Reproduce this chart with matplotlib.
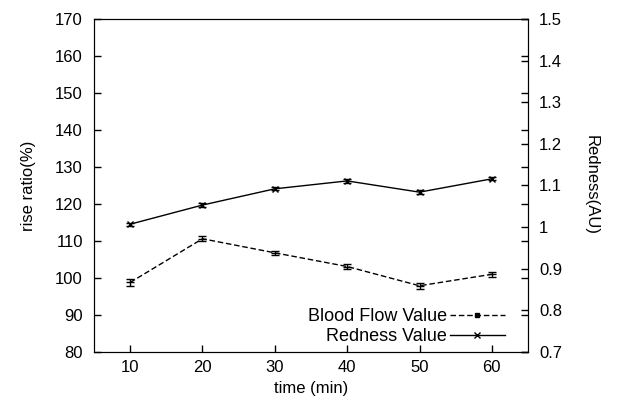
import numpy as np
import matplotlib

matplotlib.use("Agg")
import matplotlib.pyplot as plt
from matplotlib.lines import Line2D

time_min = [10, 20, 30, 40, 50, 60]
blood_flow = [98.8, 110.6, 106.8, 103.1, 97.9, 101.0]
blood_flow_err = [0.9, 0.7, 0.6, 0.7, 0.8, 0.6]
redness = [1.007, 1.053, 1.092, 1.111, 1.084, 1.116]
redness_err = [0.004, 0.004, 0.004, 0.005, 0.004, 0.004]

plt.rcParams["font.family"] = ["Liberation Sans", "DejaVu Sans"]
plt.rcParams["font.size"] = 12

fig = plt.figure(figsize=(6.22, 4.05), dpi=100)
ax = fig.add_axes([0.1511, 0.1309, 0.6978, 0.8222])
ax2 = ax.twinx()

ax.errorbar(time_min, blood_flow, yerr=blood_flow_err, color="black", lw=1,
            ls=(0, (4, 2)), capsize=3, elinewidth=1, marker="_", ms=6)
ax2.errorbar(time_min, redness, yerr=redness_err, color="black", lw=1,
             ls="-", capsize=3, elinewidth=1, marker="x", ms=4)

ax.set_xlim(5, 65)
ax.set_ylim(80, 170)
ax.set_xticks(time_min)
ax.set_yticks(np.arange(80, 171, 10))
ax2.set_ylim(0.7, 1.5)
ax2.set_yticks([0.7, 0.8, 0.9, 1.0, 1.1, 1.2, 1.3, 1.4, 1.5])
ax2.set_yticklabels(["0.7", "0.8", "0.9", "1", "1.1", "1.2", "1.3", "1.4", "1.5"])

ax.tick_params(direction="in", length=5, right=True, top=False, width=1)
ax2.tick_params(direction="in", length=5, width=1)
ax.tick_params(axis="x", pad=6)
ax.tick_params(axis="y", pad=8)
ax2.tick_params(axis="y", pad=8)

ax.set_xlabel("time (min)", labelpad=4)
ax.set_ylabel("rise ratio(%)", labelpad=14)
ax2.set_ylabel("Redness(AU)", rotation=270, labelpad=26)

handles = [
    Line2D([], [], color="black", lw=1, ls=(0, (4, 2)), marker="s", ms=3),
    Line2D([], [], color="black", lw=1, ls="-", marker="x", ms=4),
]
ax2.legend(handles, ["Blood Flow Value", "Redness Value"], loc="lower right",
           bbox_to_anchor=(0.95, 0.015), frameon=False, markerfirst=False,
           fontsize=13, handlelength=3, borderaxespad=0, borderpad=0.1,
           labelspacing=0.15, handletextpad=0.2)

fig.savefig("out.png", dpi=100)
